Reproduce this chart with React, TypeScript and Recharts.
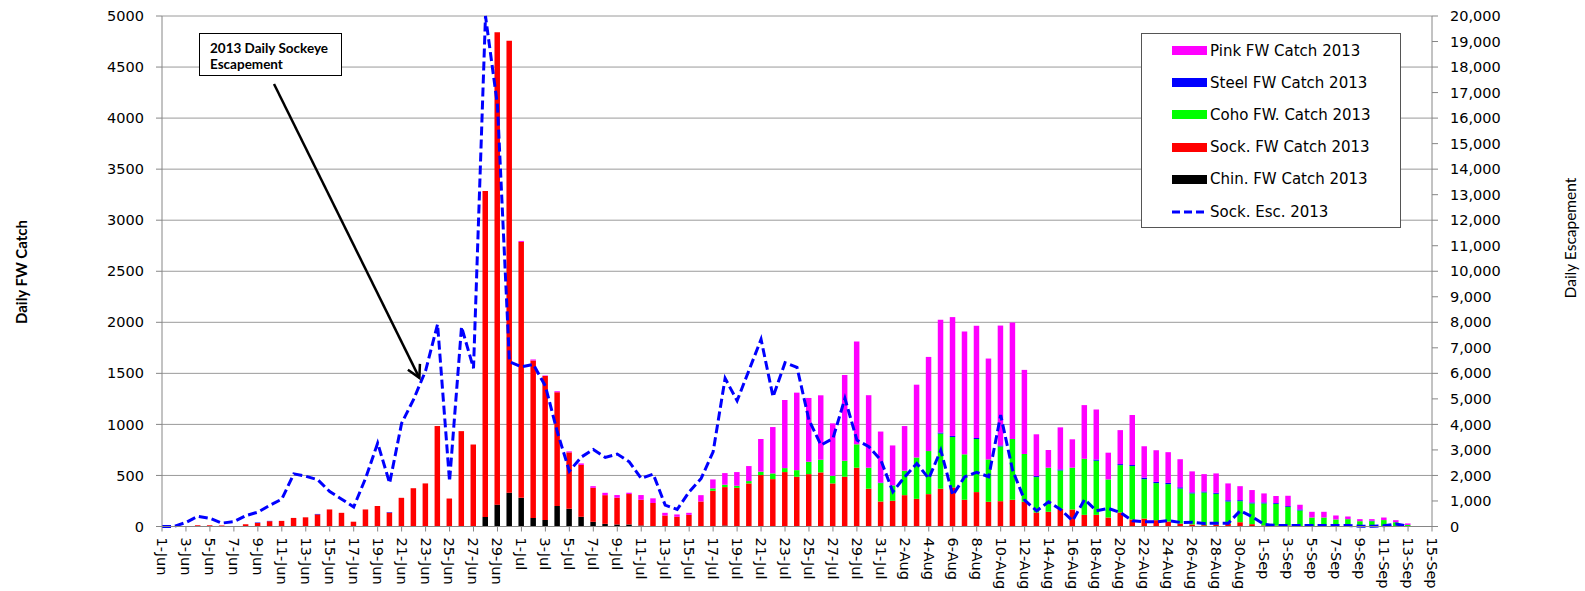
import React from 'react';
import { ComposedChart, Bar, Line, XAxis, YAxis, CartesianGrid, ReferenceLine } from 'recharts';

// ---------- categories ----------
const monthLengths: [string, number][] = [['Jun', 30], ['Jul', 31], ['Aug', 31], ['Sep', 15]];
const dates: string[] = [];
monthLengths.forEach(([m, n]) => {
  for (let d = 1; d <= n; d++) dates.push(`${d}-${m}`);
});

// ---------- series values (per month) ----------
const chinJun = [0,0,0,0,0,0,0,0,0,0, 0,0,0,0,0,0,0,0,0,0, 0,0,0,0,0,0,0,94,214,331];
const chinJul = [281,84,64,201,174,95,46,26,20,20, 10,5,3,0,0,0,0,10,0,0, 0,0,0,0,0,0,0,0,0,0, 0];
const chinAug = [0,0,0,0,0,0,0,0,0,0, 0,0,0,0,0,0,0,0,0,0, 0,0,0,0,0,0,0,0,0,0, 0];
const chinSep = [0,0,0,0,0,0,0,0,0,0, 0,0,0,0,0];

const sockJun = [0,3,5,12,12,10,5,22,35,52, 55,84,90,118,167,134,47,167,201,136, 281,375,422,984,274,934,803,3192,4628,4427];
const sockJul = [2506,1542,1410,1114,552,508,333,281,262,298, 252,225,105,95,114,245,350,376,379,422, 504,464,533,487,513,530,422,487,576,370, 245];
const sockAug = [252,307,271,317,370,383,262,337,242,248, 262,242,137,144,173,167,114,114,88,137, 69,78,62,49,29,20,13,20,25,42, 23];
const sockSep = [10,8,10,5,3,3,2,2,0,0, 0,0,0,0,0];

const cohoJun = [0,0,0,0,0,0,0,0,0,0, 0,0,0,0,0,0,0,0,0,0, 0,0,0,0,0,0,0,0,0,0];
const cohoJul = [0,0,0,0,0,0,0,0,0,0, 0,0,0,0,0,0,23,23,20,23, 33,56,39,65,121,124,75,157,229,206, 180];
const cohoAug = [150,239,405,422,540,494,445,520,415,536, 595,468,347,432,376,409,549,530,373,464, 523,386,363,366,343,304,320,300,220,206, 203];
const cohoSep = [216,214,182,152,85,85,67,70,52,52, 63,42,15,0,0];

const steelJun = [0,0,0,0,0,0,0,0,3,3, 0,0,0,5,0,0,0,0,0,5, 0,0,0,0,0,0,0,0,0,0];
const steelJul = [0,0,0,0,0,0,0,0,0,0, 0,0,0,0,0,0,0,0,0,0, 0,0,0,0,0,0,0,0,0,0, 5];
const steelAug = [0,0,0,0,10,10,0,10,0,10, 0,0,10,0,10,0,0,12,0,10, 10,15,12,12,12,10,10,10,12,10, 10];
const steelSep = [10,8,8,10,0,0,0,0,0,5, 0,0,0,0,0];

const pinkJun = [0,0,0,0,0,0,0,0,0,0, 0,0,0,0,0,0,0,0,0,0, 0,0,0,0,0,0,0,0,0,0];
const pinkJul = [10,10,5,10,10,15,16,23,26,13, 46,46,26,23,20,62,88,114,134,147, 320,454,667,759,625,631,513,840,1007,710, 500];
const pinkAug = [392,438,713,922,1105,1164,1203,1099,988,1174, 1141,824,409,173,412,278,526,490,262,333, 490,307,310,301,275,206,170,190,165,137, 121];
const pinkSep = [88,69,101,46,56,56,39,26,20,15, 25,20,15,0,0];

const escJun = [0,0,160,400,320,134,187,428,562,830, 1071,2062,1968,1834,1366,1071,763,1901,3267,1700, 4044,4981,6100,7927,1767,7820,6200,20000,16500,6454];
const escJul = [6253,6347,5500,3700,2169,2720,3019,2705,2836,2536, 1882,2052,836,667,1359,1882,2928,5803,4927,6130, 7332,5084,6417,6234,4170,3190,3450,5020,3385,3124, 2600];
const escAug = [1360,1950,2470,1880,2990,1230,1950,2120,1950,4365, 2200,1030,614,967,667,222,1059,614,706,549, 222,183,183,235,157,170,118,131,130,620, 380];
const escSep: (number | null)[] = [78,40,40,40,40,40,40,40,10,10, 30,100,10,null,null];

const chin = [...chinJun, ...chinJul, ...chinAug, ...chinSep];
const sock = [...sockJun, ...sockJul, ...sockAug, ...sockSep];
const coho = [...cohoJun, ...cohoJul, ...cohoAug, ...cohoSep];
const steel = [...steelJun, ...steelJul, ...steelAug, ...steelSep];
const pink = [...pinkJun, ...pinkJul, ...pinkAug, ...pinkSep];
const esc: (number | null)[] = [...escJun, ...escJul, ...escAug, ...escSep];

// ---------- axis ticks ----------
const leftTicks = [0, 500, 1000, 1500, 2000, 2500, 3000, 3500, 4000, 4500, 5000];
const rightTicks = [0, 1000, 2000, 3000, 4000, 5000, 6000, 7000, 8000, 9000, 10000, 11000, 12000, 13000, 14000, 15000, 16000, 17000, 18000, 19000, 20000];
const minorTicks: number[] = [];
for (let v = 0; v <= 5000; v += 50) minorTicks.push(v);
const xTicks: number[] = dates.map((_, i) => i).filter((i) => i % 2 === 0);

const data = dates.map((date, i) => ({
  i,
  date,
  chin: chin[i],
  sock: sock[i],
  coho: coho[i],
  steel: steel[i],
  pink: pink[i],
  esc: esc[i],
}));

const legendItems = [
  { name: 'Pink FW Catch 2013', color: '#FF00FF', line: false },
  { name: 'Steel FW Catch 2013', color: '#0000FF', line: false },
  { name: 'Coho FW. Catch 2013', color: '#00FF00', line: false },
  { name: 'Sock. FW Catch 2013', color: '#FF0000', line: false },
  { name: 'Chin. FW Catch 2013', color: '#000000', line: false },
  { name: 'Sock. Esc. 2013', color: '#0000FF', line: true },
];

const W = 1585;
const H = 591;
const FONT = "'DejaVu Sans', Verdana, sans-serif";

const XTick = (props: any) => {
  const { x, y, payload } = props;
  const ty = y + 4;
  return (
    <text
      x={x}
      y={ty}
      dy="0.35em"
      textAnchor="start"
      transform={`rotate(90, ${x}, ${ty})`}
      fontSize={14.5}
      fontFamily={FONT}
      fill="#000"
    >
      {dates[payload.value]}
    </text>
  );
};

const ArrowShape = (p: any) => {
  const { x1, y1, x2, y2 } = p;
  if ([x1, y1, x2, y2].some((v) => typeof v !== 'number' || isNaN(v))) return <g />;
  const ang = Math.atan2(y2 - y1, x2 - x1);
  const L = 14;
  const a = 0.5;
  const ax = x2 - L * Math.cos(ang - a);
  const ay = y2 - L * Math.sin(ang - a);
  const bx = x2 - L * Math.cos(ang + a);
  const by = y2 - L * Math.sin(ang + a);
  return (
    <g>
      <line x1={x1} y1={y1} x2={x2} y2={y2} stroke="#000" strokeWidth={2.5} />
      <polyline points={`${ax},${ay} ${x2},${y2} ${bx},${by}`} fill="none" stroke="#000" strokeWidth={2.5} />
    </g>
  );
};

export default function App() {
  return (
    <div style={{ position: 'absolute', left: 0, top: 0, width: W, height: H, background: '#fff', overflow: 'hidden' }}>
      <ComposedChart width={W} height={H} data={data} margin={{ top: 16, right: 0, bottom: 0, left: 0 }}>
        <CartesianGrid yAxisId="left" vertical={false} stroke="#9a9a9a" />
        <XAxis
          dataKey="i"
          type="number"
          domain={[0, 106]}
          ticks={xTicks}
          interval={0}
          height={64.5}
          tick={<XTick />}
          tickSize={5}
          axisLine={{ stroke: '#868686' }}
          tickLine={{ stroke: '#868686' }}
          allowDataOverflow
        />
        <YAxis
          yAxisId="left"
          domain={[0, 5000]}
          ticks={leftTicks}
          interval={0}
          width={162}
          tickSize={6}
          tickMargin={12}
          tick={{ fontSize: 14.5, fontFamily: FONT, fill: '#000' }}
          axisLine={{ stroke: '#868686' }}
          tickLine={{ stroke: '#868686' }}
        />
        <YAxis
          yAxisId="minor"
          mirror
          width={0}
          domain={[0, 5000]}
          ticks={minorTicks}
          interval={0}
          tick={false}
          tickSize={4}
          axisLine={false}
          tickLine={{ stroke: '#a6a6a6' }}
        />
        <YAxis
          yAxisId="right"
          orientation="right"
          domain={[0, 20000]}
          ticks={rightTicks}
          interval={0}
          width={153}
          tickSize={6}
          tickMargin={12}
          tickFormatter={(v: number) => v.toLocaleString('en-US')}
          tick={{ fontSize: 14.5, fontFamily: FONT, fill: '#000' }}
          axisLine={{ stroke: '#868686' }}
          tickLine={{ stroke: '#868686' }}
        />
        <Bar yAxisId="left" dataKey="chin" stackId="a" fill="#000000" barSize={5.5} isAnimationActive={false} />
        <Bar yAxisId="left" dataKey="sock" stackId="a" fill="#FF0000" barSize={5.5} isAnimationActive={false} />
        <Bar yAxisId="left" dataKey="coho" stackId="a" fill="#00FF00" barSize={5.5} isAnimationActive={false} />
        <Bar yAxisId="left" dataKey="steel" stackId="a" fill="#0000FF" barSize={5.5} isAnimationActive={false} />
        <Bar yAxisId="left" dataKey="pink" stackId="a" fill="#FF00FF" barSize={5.5} isAnimationActive={false} />
        <Line
          yAxisId="right"
          dataKey="esc"
          type="linear"
          stroke="#0000FF"
          strokeWidth={3}
          strokeDasharray="9 4"
          dot={false}
          activeDot={false}
          isAnimationActive={false}
        />
        <ReferenceLine
          yAxisId="left"
          segment={[{ x: 9.35, y: 4334 }, { x: 21.48, y: 1456 }]}
          ifOverflow="visible"
          shape={ArrowShape}
        />
      </ComposedChart>

      {/* axis titles */}
      <svg width={W} height={H} style={{ position: 'absolute', left: 0, top: 0, pointerEvents: 'none' }}>
        <text
          x={21}
          y={272}
          transform="rotate(-90, 21, 272)"
          textAnchor="middle"
          dominantBaseline="central"
          fontFamily="Lato, 'Open Sans', sans-serif"
          fontWeight="bold"
          fontSize={15}
          fill="#000"
        >
          Daily FW Catch
        </text>
        <text
          x={1570}
          y={238}
          transform="rotate(-90, 1570, 238)"
          textAnchor="middle"
          dominantBaseline="central"
          fontFamily="Lato, 'Open Sans', sans-serif"
          fontSize={15.5}
          fill="#000"
        >
          Daily Escapement
        </text>
      </svg>

      {/* annotation box */}
      <div
        style={{
          position: 'absolute',
          left: 199,
          top: 33,
          width: 143,
          height: 43,
          border: '1.5px solid #000',
          background: '#fff',
          fontFamily: "Lato, 'Open Sans', sans-serif",
          fontWeight: 'bold',
          fontSize: 13.5,
          lineHeight: '16px',
          paddingTop: 6,
          paddingLeft: 10,
          boxSizing: 'border-box',
          color: '#000',
        }}
      >
        <div>2013 Daily Sockeye</div>
        <div>Escapement</div>
      </div>

      {/* legend */}
      <div
        style={{
          position: 'absolute',
          left: 1141,
          top: 33,
          width: 260,
          height: 195,
          border: '1.5px solid #555',
          background: '#fff',
          boxSizing: 'border-box',
        }}
      >
        {legendItems.map((it, k) => {
          const cy = 16.5 + k * 32.2;
          return (
            <div key={it.name} style={{ position: 'absolute', left: 0, top: cy - 10, height: 20, width: '100%' }}>
              {it.line ? (
                <svg width={36} height={20} style={{ position: 'absolute', left: 29, top: 0 }}>
                  <line x1={1} y1={10} x2={35} y2={10} stroke={it.color} strokeWidth={3} strokeDasharray="8 4" />
                </svg>
              ) : (
                <div style={{ position: 'absolute', left: 30, top: 5.5, width: 35, height: 9, background: it.color }} />
              )}
              <div
                style={{
                  position: 'absolute',
                  left: 68,
                  top: 0,
                  height: 20,
                  lineHeight: '20px',
                  fontFamily: FONT,
                  fontSize: 15,
                  color: '#000',
                  whiteSpace: 'nowrap',
                }}
              >
                {it.name}
              </div>
            </div>
          );
        })}
      </div>
    </div>
  );
}
